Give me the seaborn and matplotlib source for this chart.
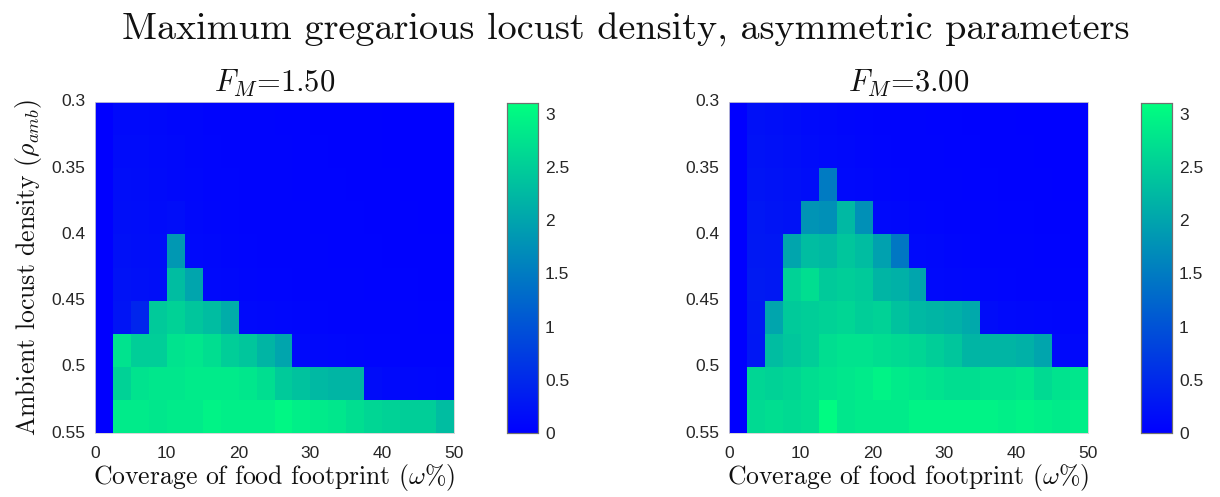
import numpy as np
import pandas as pd
import matplotlib
matplotlib.use("Agg")
import matplotlib.pyplot as plt
import seaborn as sns

# ---------------- data ----------------
omega_pct = [1.25, 3.75, 6.25, 8.75, 11.25, 13.75, 16.25, 18.75, 21.25, 23.75,
             26.25, 28.75, 31.25, 33.75, 36.25, 38.75, 41.25, 43.75, 46.25, 48.75]
rho_amb = [0.3125, 0.3375, 0.3625, 0.3875, 0.4125, 0.4375, 0.4625, 0.4875, 0.5125, 0.5375]

x_tick_labels = ["0", "10", "20", "30", "40", "50"]
y_tick_labels = ["0.3", "0.35", "0.4", "0.45", "0.5", "0.55"]
cbar_ticks = [0, 0.5, 1, 1.5, 2, 2.5, 3]
cbar_tick_labels = ["0", "0.5", "1", "1.5", "2", "2.5", "3"]

titles = [r"$F_M$=1.50", r"$F_M$=3.00"]

density_fm150 = [
    [0, .12, .12, .10, .08, .08, .06, .06, .05, .05, .04, .04, .03, .03, .03, .03, .02, .02, .02, .02],
    [0, .14, .14, .12, .10, .08, .07, .06, .06, .05, .05, .04, .04, .03, .03, .03, .02, .02, .02, .02],
    [0, .16, .15, .13, .10, .09, .07, .07, .06, .05, .05, .04, .04, .04, .03, .03, .03, .02, .02, .02],
    [0, .18, .16, .14, .16, .10, .08, .07, .06, .06, .05, .05, .04, .04, .04, .03, .03, .03, .02, .02],
    [0, .20, .18, .16, 1.85, .12, .10, .08, .07, .06, .06, .05, .05, .04, .04, .04, .03, .03, .03, .03],
    [0, .22, .20, .18, 2.30, 2.00, .12, .10, .08, .07, .07, .06, .05, .05, .05, .04, .04, .04, .03, .03],
    [0, .25, .45, 2.45, 2.55, 2.40, 2.30, 2.10, .12, .10, .09, .08, .07, .06, .06, .05, .05, .05, .04, .04],
    [0, 2.75, 2.50, 2.50, 2.75, 2.80, 2.70, 2.50, 2.40, 2.20, 2.00, .12, .10, .09, .08, .07, .07, .06, .06, .05],
    [0, 2.55, 2.75, 2.80, 2.80, 2.85, 2.85, 2.85, 2.80, 2.70, 2.45, 2.35, 2.25, 2.20, 2.20, .15, .12, .10, .09, .08],
    [0, 2.85, 2.85, 2.80, 2.85, 2.85, 2.95, 2.90, 2.90, 2.90, 3.00, 2.90, 2.85, 2.80, 2.70, 2.60, 2.55, 2.50, 2.50, 2.30],
]

density_fm300 = [
    [0, .20, .18, .15, .12, .10, .08, .07, .06, .05, .05, .04, .04, .03, .03, .03, .02, .02, .02, .02],
    [0, .22, .20, .17, .14, .12, .10, .08, .07, .06, .05, .05, .04, .04, .03, .03, .03, .02, .02, .02],
    [0, .25, .22, .20, .16, 1.50, .12, .10, .08, .07, .06, .05, .05, .04, .04, .03, .03, .03, .02, .02],
    [0, .28, .25, .22, 1.80, 1.75, 2.25, 1.75, .12, .10, .08, .07, .06, .05, .05, .04, .04, .03, .03, .03],
    [0, .30, .28, 2.00, 2.30, 2.25, 2.40, 2.30, 1.95, 1.45, .12, .10, .08, .07, .06, .05, .05, .04, .04, .03],
    [0, .32, .30, 2.55, 2.70, 2.45, 2.50, 2.45, 2.20, 2.15, 2.00, .12, .10, .09, .08, .07, .06, .05, .05, .04],
    [0, .30, 2.00, 2.45, 2.50, 2.55, 2.60, 2.50, 2.55, 2.35, 2.25, 2.20, 2.15, 2.05, .15, .12, .10, .09, .08, .07],
    [0, .28, 2.30, 2.40, 2.50, 2.70, 2.75, 2.75, 2.70, 2.65, 2.60, 2.50, 2.40, 2.20, 2.20, 2.20, 2.15, 2.00, .12, .10],
    [0, 2.60, 2.55, 2.60, 2.70, 2.75, 2.80, 2.85, 2.95, 2.85, 2.80, 2.75, 2.70, 2.70, 2.75, 2.75, 2.80, 2.65, 2.75, 2.80],
    [0, 2.65, 2.70, 2.65, 2.70, 3.05, 2.80, 2.85, 2.85, 2.85, 2.95, 2.95, 2.95, 2.95, 2.95, 2.90, 2.95, 2.90, 2.85, 2.90],
]

# ---------------- style ----------------
sns.set_theme(style="white")
plt.rcParams["font.family"] = ["Liberation Sans", "DejaVu Sans"]
plt.rcParams["mathtext.fontset"] = "cm"
plt.rcParams["axes.formatter.use_mathtext"] = True
serif = ["cmr10", "DejaVu Serif"]

W, H = 1220, 497
fig = plt.figure(figsize=(W / 100, H / 100), dpi=100)

def box(x0, y0, x1, y1):
    return [x0 / W, 1 - y1 / H, (x1 - x0) / W, (y1 - y0) / H]

axes_px = [(95, 102, 454, 433), (729, 102, 1088, 433)]
cbar_px = [(507, 103, 538, 433), (1141, 103, 1172, 433)]

for i, data in enumerate([density_fm150, density_fm300]):
    ax = fig.add_axes(box(*axes_px[i]))
    cax = fig.add_axes(box(*cbar_px[i]))
    df = pd.DataFrame(data, index=rho_amb, columns=omega_pct)
    sns.heatmap(df, ax=ax, cbar_ax=cax, cmap="winter", vmin=0, vmax=3.1,
                cbar_kws={"ticks": cbar_ticks})
    ax.set_xticks(np.linspace(0, len(omega_pct), len(x_tick_labels)))
    ax.set_xticklabels(x_tick_labels, rotation=0, fontsize=12.5, color="#262626")
    ax.set_yticks(np.linspace(0, len(rho_amb), len(y_tick_labels)))
    ax.set_yticklabels(y_tick_labels, rotation=0, fontsize=12.5, color="#262626")
    ax.tick_params(axis="x", direction="in", length=3, width=0.6, pad=9, color="#262626")
    ax.tick_params(axis="y", direction="in", length=3, width=0.6, pad=7, color="#262626")
    ax.set_xlabel(r"Coverage of food footprint ($\omega$%)", family=serif,
                  fontsize=18.5, color="#111111", labelpad=1)
    if i == 0:
        ax.set_ylabel(r"Ambient locust density ($\rho_{amb}$)", family=serif,
                      fontsize=18.5, color="#111111", labelpad=5)
    else:
        ax.set_ylabel("")
    ax.set_title(titles[i], family=serif, fontsize=22, pad=7, color="#111111")
    for s in ax.spines.values():
        s.set_visible(True)
        s.set_color("#d0d0d0")
        s.set_linewidth(0.6)

    cax.set_yticks(cbar_ticks)
    cax.set_yticklabels(cbar_tick_labels, fontsize=12.5, color="#262626")
    cax.tick_params(direction="in", length=3, width=0.6, pad=5, color="#262626",
                    right=True, left=False)
    for s in cax.spines.values():
        s.set_visible(True)
        s.set_color("#707070")
        s.set_linewidth(0.8)

fig.suptitle("Maximum gregarious locust density, asymmetric parameters",
             family=serif, fontsize=27.5, x=0.513, y=0.975, color="#111111")

fig.savefig("out.png", dpi=100)
